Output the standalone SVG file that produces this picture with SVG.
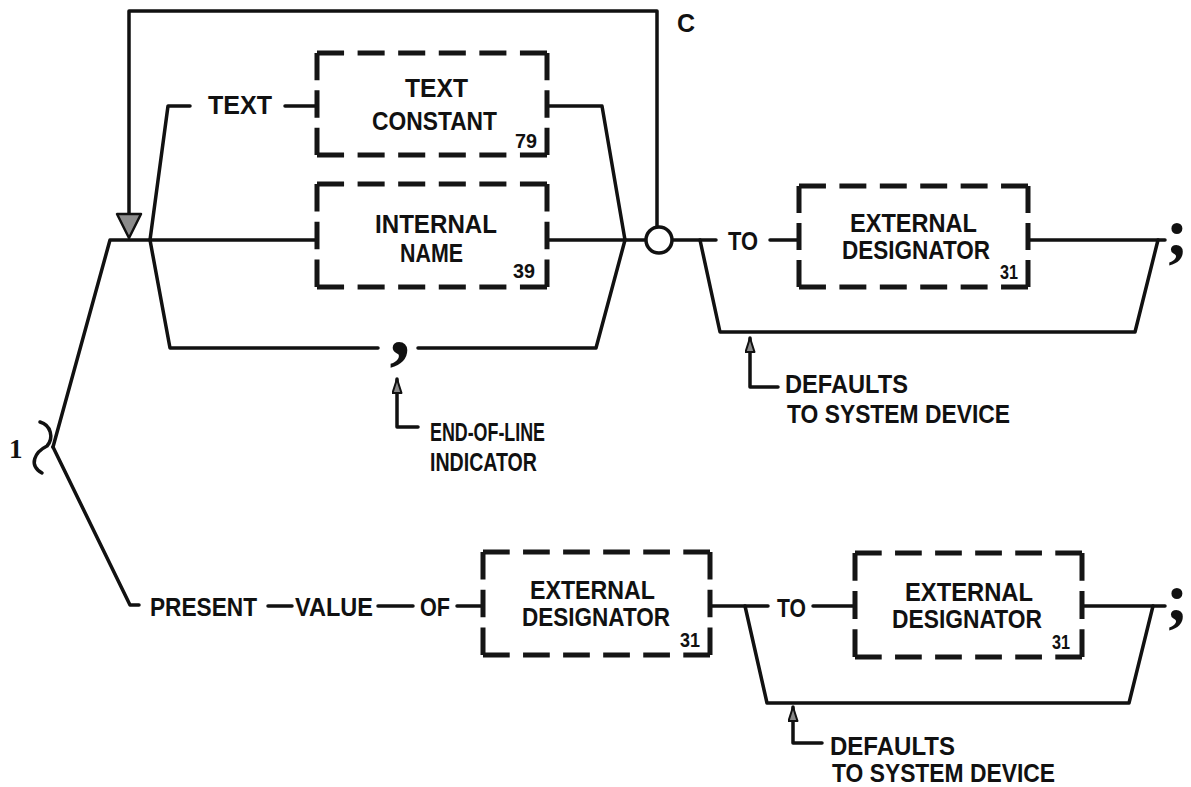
<svg xmlns="http://www.w3.org/2000/svg" width="1191" height="787" viewBox="0 0 1191 787">
<defs>
<style>
.c{fill:none;stroke:#111;stroke-width:3.5;stroke-linejoin:round;stroke-linecap:round}
.dh{fill:none;stroke:#151515;stroke-width:5;stroke-dasharray:11.765 5.882}
.dv{fill:none;stroke:#151515;stroke-width:5;stroke-dasharray:26.74 9.89}
.t{font-family:"Liberation Sans",Arial,sans-serif;font-weight:bold;font-size:25px;fill:#111}
.n{font-family:"Liberation Sans",Arial,sans-serif;font-weight:bold;font-size:20px;fill:#111}
.p{font-family:"Liberation Serif","Times New Roman",serif;font-weight:bold;font-size:68px;fill:#111}
</style>
<marker id="ah" markerUnits="userSpaceOnUse" viewBox="0 0 16 11" refX="15" refY="5.5" markerWidth="16" markerHeight="11" orient="auto">
<path d="M1,1 L15,5.5 L1,10 z" fill="#888" stroke="#111" stroke-width="2" stroke-linejoin="round"/>
</marker>
</defs>
<rect width="1191" height="787" fill="#fff"/>

<g id="connectors">
<path class="c" d="M53,447 L110,240 L317,240"/>
<path class="c" d="M547,240 L716,240"/>
<path class="c" d="M657,227 L657,11 L129,11 L129,214"/>
<polygon points="117,214 141,214 129,238" fill="#8c8c8c" stroke="#111" stroke-width="2.5" stroke-linejoin="round"/>
<path class="c" d="M150,240 L168,106 L190,106"/>
<path class="c" d="M285,106 L317,106"/>
<path class="c" d="M547,106 L602,106 L625,240"/>
<path class="c" d="M150,240 L170,348 L378,348"/>
<path class="c" d="M418,348 L596,348 L625,240"/>
<circle cx="659" cy="240" r="13" fill="#fff" stroke="#111" stroke-width="3.5"/>
<path class="c" d="M770,240 L799,240"/>
<path class="c" d="M1028,240 L1165,240"/>
<path class="c" d="M700,240 L720,332 L1135,332 L1158,240"/>
<path class="c" d="M418,427 L397,427 L397,379" marker-end="url(#ah)"/>
<path class="c" d="M778,387 L750,387 L750,338" marker-end="url(#ah)"/>
<path class="c" d="M40,422 C51,425 54,438 47,446 C35,452 28,465 42,473"/>
<path class="c" d="M53,447 L130,605 L139,605"/>
<path class="c" d="M268,606 L292,606"/>
<path class="c" d="M378,606 L413,606"/>
<path class="c" d="M457,606 L483,606"/>
<path class="c" d="M710,606 L768,606"/>
<path class="c" d="M813,606 L855,606"/>
<path class="c" d="M1082,606 L1165,606"/>
<path class="c" d="M745,606 L767,703 L1129,703 L1153,606"/>
<path class="c" d="M822,743 L793,743 L793,707" marker-end="url(#ah)"/>
</g>

<g id="label-1"><text x="9" y="458" font-family="Liberation Serif,serif" font-weight="bold" font-size="27" fill="#111">1</text></g>
<g id="label-c"><text class="t" x="677" y="32">C</text></g>
<g id="label-text"><text class="t" x="208" y="114" textLength="64" lengthAdjust="spacingAndGlyphs">TEXT</text></g>

<g id="box-text-constant">
<path class="dh" pathLength="100" d="M317,53 H547"/>
<path class="dh" pathLength="100" d="M317,155 H547"/>
<path class="dv" pathLength="100" d="M317,53 V155"/>
<path class="dv" pathLength="100" d="M547,53 V155"/>
<text class="t" x="405" y="97" textLength="63" lengthAdjust="spacingAndGlyphs">TEXT</text>
<text class="t" x="372" y="130" textLength="125" lengthAdjust="spacingAndGlyphs">CONSTANT</text>
<text class="n" x="515" y="148" textLength="22" lengthAdjust="spacingAndGlyphs">79</text>
</g>

<g id="box-internal-name">
<path class="dh" pathLength="100" d="M317,184 H547"/>
<path class="dh" pathLength="100" d="M317,287 H547"/>
<path class="dv" pathLength="100" d="M317,184 V287"/>
<path class="dv" pathLength="100" d="M547,184 V287"/>
<text class="t" x="375" y="233" textLength="122" lengthAdjust="spacingAndGlyphs">INTERNAL</text>
<text class="t" x="400" y="262" textLength="63" lengthAdjust="spacingAndGlyphs">NAME</text>
<text class="n" x="513" y="278" textLength="22" lengthAdjust="spacingAndGlyphs">39</text>
</g>

<g id="eol-comma"><text class="p" x="400" y="354" text-anchor="middle" style="font-size:84px">,</text></g>
<g id="label-eol">
<text class="t" x="430" y="441" textLength="115" lengthAdjust="spacingAndGlyphs">END-OF-LINE</text>
<text class="t" x="430" y="471" textLength="107" lengthAdjust="spacingAndGlyphs">INDICATOR</text>
</g>

<g id="label-to-1"><text class="t" x="728" y="250" textLength="30" lengthAdjust="spacingAndGlyphs">TO</text></g>
<g id="box-ext-des-1">
<path class="dh" pathLength="100" d="M799,186 H1028"/>
<path class="dh" pathLength="100" d="M799,287 H1028"/>
<path class="dv" pathLength="100" d="M799,186 V287"/>
<path class="dv" pathLength="100" d="M1028,186 V287"/>
<text class="t" x="850" y="232" textLength="127" lengthAdjust="spacingAndGlyphs">EXTERNAL</text>
<text class="t" x="842" y="259" textLength="148" lengthAdjust="spacingAndGlyphs">DESIGNATOR</text>
<text class="n" x="1000" y="279" textLength="18" lengthAdjust="spacingAndGlyphs">31</text>
</g>
<g id="end-1"><text class="p" x="1177" y="255" text-anchor="middle">;</text></g>
<g id="label-defaults-1">
<text class="t" x="785" y="393" textLength="123" lengthAdjust="spacingAndGlyphs">DEFAULTS</text>
<text class="t" x="787" y="423" textLength="223" lengthAdjust="spacingAndGlyphs">TO SYSTEM DEVICE</text>
</g>

<g id="label-present-value-of">
<text class="t" x="150" y="616" textLength="107" lengthAdjust="spacingAndGlyphs">PRESENT</text>
<text class="t" x="295" y="616" textLength="78" lengthAdjust="spacingAndGlyphs">VALUE</text>
<text class="t" x="420" y="616" textLength="30" lengthAdjust="spacingAndGlyphs">OF</text>
</g>
<g id="box-ext-des-2">
<path class="dh" pathLength="100" d="M483,552 H710"/>
<path class="dh" pathLength="100" d="M483,655 H710"/>
<path class="dv" pathLength="100" d="M483,552 V655"/>
<path class="dv" pathLength="100" d="M710,552 V655"/>
<text class="t" x="530" y="599" textLength="125" lengthAdjust="spacingAndGlyphs">EXTERNAL</text>
<text class="t" x="522" y="626" textLength="148" lengthAdjust="spacingAndGlyphs">DESIGNATOR</text>
<text class="n" x="680" y="647" textLength="20" lengthAdjust="spacingAndGlyphs">31</text>
</g>
<g id="label-to-2"><text class="t" x="777" y="617" textLength="29" lengthAdjust="spacingAndGlyphs">TO</text></g>
<g id="box-ext-des-3">
<path class="dh" pathLength="100" d="M855,553 H1082"/>
<path class="dh" pathLength="100" d="M855,657 H1082"/>
<path class="dv" pathLength="100" d="M855,553 V657"/>
<path class="dv" pathLength="100" d="M1082,553 V657"/>
<text class="t" x="905" y="601" textLength="128" lengthAdjust="spacingAndGlyphs">EXTERNAL</text>
<text class="t" x="892" y="628" textLength="150" lengthAdjust="spacingAndGlyphs">DESIGNATOR</text>
<text class="n" x="1052" y="649" textLength="18" lengthAdjust="spacingAndGlyphs">31</text>
</g>
<g id="end-2"><text class="p" x="1177" y="620" text-anchor="middle">;</text></g>
<g id="label-defaults-2">
<text class="t" x="830" y="755" textLength="125" lengthAdjust="spacingAndGlyphs">DEFAULTS</text>
<text class="t" x="832" y="782" textLength="223" lengthAdjust="spacingAndGlyphs">TO SYSTEM DEVICE</text>
</g>
</svg>
